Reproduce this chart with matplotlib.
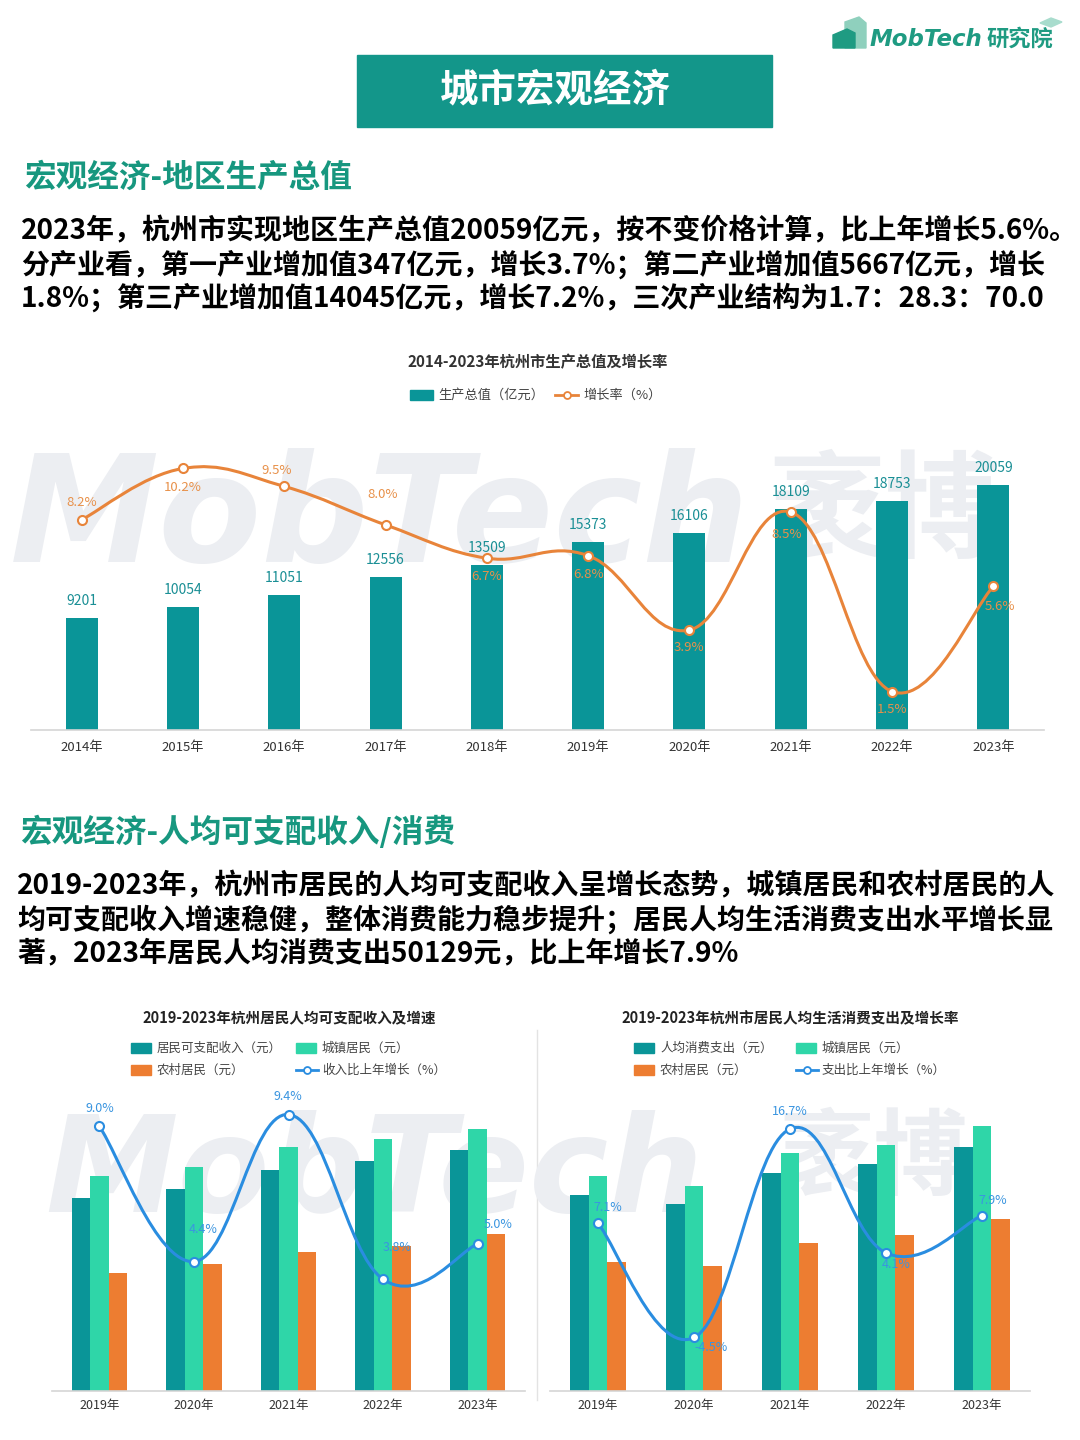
import matplotlib
matplotlib.use("Agg")
import matplotlib.pyplot as plt
from matplotlib.path import Path
from matplotlib.patches import PathPatch, Rectangle, Polygon
import numpy as np

plt.rcParams['font.family'] = ['Noto Sans CJK SC', 'DejaVu Sans']

# ---------------- data ----------------
gdp_years = ['2014年', '2015年', '2016年', '2017年', '2018年', '2019年', '2020年', '2021年', '2022年', '2023年']
gdp_values = [9201, 10054, 11051, 12556, 13509, 15373, 16106, 18109, 18753, 20059]
gdp_growth = [8.2, 10.2, 9.5, 8.0, 6.7, 6.8, 3.9, 8.5, 1.5, 5.6]

inc_years = ['2019年', '2020年', '2021年', '2022年', '2023年']
inc_total = [59300, 62000, 67800, 70600, 74000]
inc_urban = [66000, 68800, 74900, 77400, 80400]
inc_rural = [36200, 39000, 42700, 44500, 48200]
inc_growth = [9.0, 4.4, 9.4, 3.8, 5.0]

con_years = ['2019年', '2020年', '2021年', '2022年', '2023年']
con_total = [40300, 38400, 44800, 46600, 50100]
con_urban = [44200, 42100, 48900, 50500, 54400]
con_rural = [26500, 25700, 30400, 32000, 35300]
con_growth = [7.1, -4.5, 16.7, 4.1, 7.9]

# ---------------- styles ----------------
W, H = 1080, 1440
TEAL_BAR = '#0a9598'
MINT = '#2fd6a8'
ORANGE = '#ed7d31'
LINE_OR = '#e8843a'
BLUE = '#2a8de0'
HEAD = '#13968a'
SEC = '#17977f'
WM = '#eceef2'

fig = plt.figure(figsize=(W / 100, H / 100), dpi=100)
fig.patch.set_facecolor('white')

bg = fig.add_axes([0, 0, 1, 1], zorder=-10)
bg.set_xlim(0, W)
bg.set_ylim(H, 0)
bg.axis('off')


def px_axes(x0, y0, x1, y1):
    ax = fig.add_axes([x0 / W, 1 - y1 / H, (x1 - x0) / W, (y1 - y0) / H])
    ax.patch.set_visible(False)
    return ax


def smooth_line(ax, xs, ys, color, k=0.2, lw=2.2):
    P = np.column_stack([xs, ys]).astype(float)
    n = len(P)
    verts = [tuple(P[0])]
    codes = [Path.MOVETO]
    for i in range(n - 1):
        a = P[max(i - 1, 0)]
        d = P[min(i + 2, n - 1)]
        c1 = P[i] + k * (P[i + 1] - a)
        c2 = P[i + 1] - k * (d - P[i])
        verts += [tuple(c1), tuple(c2), tuple(P[i + 1])]
        codes += [Path.CURVE4] * 3
    ax.add_patch(PathPatch(Path(verts, codes), fill=False, edgecolor=color, lw=lw, zorder=4))
    ax.plot(xs, ys, 'o', ms=6.5, mfc='white', mec=color, mew=1.5, zorder=5, ls='none')


def style_axes(ax):
    for s in ['top', 'right', 'left']:
        ax.spines[s].set_visible(False)
    ax.spines['bottom'].set_color('#d5d5d5')
    ax.spines['bottom'].set_linewidth(1.2)
    ax.set_yticks([])
    ax.tick_params(axis='x', length=0, pad=8, labelsize=9.5, labelcolor='#333333')


# ---------------- decorations ----------------
# watermarks
bg.text(10, 520, 'MobTech', fontsize=108, fontweight='bold', style='oblique', color=WM,
        family='DejaVu Sans', va='center', ha='left')
bg.text(768, 515, '袤博', fontsize=84, fontweight='bold', color=WM, va='center', ha='left')
bg.text(45, 1175, 'MobTech', fontsize=96, fontweight='bold', style='oblique', color=WM,
        family='DejaVu Sans', va='center', ha='left')
bg.text(780, 1160, '袤博', fontsize=68, fontweight='bold', color=WM, va='center', ha='left')

# logo
bg.add_patch(Polygon([(845, 48), (845, 22), (859, 17), (866, 23), (866, 48)], color='#8fd0bd'))
bg.add_patch(Polygon([(833, 48), (833, 35), (847, 29), (855, 33), (855, 48)], color='#1f9b82'))
bg.add_patch(Polygon([(1040, 23), (1051, 18), (1062, 22), (1051, 27)], color='#a8dccd'))
bg.text(870, 39, 'MobTech', fontsize=16.5, fontweight='bold', style='oblique', color='#1f9b82',
        family='DejaVu Sans', va='center', ha='left')
bg.text(1053, 39, '研究院', fontsize=16, fontweight='bold', color='#1f9b82', va='center', ha='right')

# header
bg.add_patch(Rectangle((357, 55), 415, 72, color=HEAD))
bg.text(555, 90, '城市宏观经济', fontsize=27.7, fontweight='bold', color='white', ha='center', va='center')

# section 1
bg.text(24, 178, '宏观经济-地区生产总值', fontsize=22.8, fontweight='bold', color=SEC, ha='left', va='center')
body1 = ['2023年，杭州市实现地区生产总值20059亿元，按不变价格计算，比上年增长5.6%。',
         '分产业看，第一产业增加值347亿元，增长3.7%；第二产业增加值5667亿元，增长',
         '1.8%；第三产业增加值14045亿元，增长7.2%，三次产业结构为1.7：28.3：70.0']
for i, t in enumerate(body1):
    bg.text(21, 231 + i * 33.5, t, fontsize=20.15, fontweight='bold', color='black', ha='left', va='center')

# section 2
bg.text(20, 832, '宏观经济-人均可支配收入/消费', fontsize=22.8, fontweight='bold', color=SEC, ha='left', va='center')
body2 = ['2019-2023年，杭州市居民的人均可支配收入呈增长态势，城镇居民和农村居民的人',
         '均可支配收入增速稳健，整体消费能力稳步提升；居民人均生活消费支出水平增长显',
         '著，2023年居民人均消费支出50129元，比上年增长7.9%']
for i, t in enumerate(body2):
    bg.text(17, 886 + i * 33.5, t, fontsize=20.15, fontweight='bold', color='black', ha='left', va='center')

# ---------------- chart 1 ----------------
bg.text(538, 362, '2014-2023年杭州市生产总值及增长率', fontsize=11, fontweight='bold', color='#333333',
        ha='center', va='center')
bg.add_patch(Rectangle((410, 390), 23, 10, color=TEAL_BAR))
bg.text(438, 395, '生产总值（亿元）', fontsize=9.5, color='#444444', ha='left', va='center')
bg.plot([555, 578], [395, 395], color=LINE_OR, lw=2)
bg.plot([566.5], [395], 'o', ms=5, mfc='white', mec=LINE_OR, mew=1.3)
bg.text(583, 395, '增长率（%）', fontsize=9.5, color='#444444', ha='left', va='center')

ax = px_axes(31, 430, 1044, 730)
x = np.arange(len(gdp_years))
ax.bar(x, gdp_values, width=0.316, color=TEAL_BAR, zorder=2)
ax.set_xlim(-0.5, len(gdp_years) - 0.5)
ax.set_ylim(0, 24540)
ax.set_xticks(x)
ax.set_xticklabels(gdp_years)
style_axes(ax)
for xi, v in zip(x, gdp_values):
    ax.annotate(f'{v}', (xi, v), xytext=(0, 7), textcoords='offset points', ha='center', va='bottom',
                fontsize=10, color='#1a8f95')

ax2 = ax.twinx()
ax2.patch.set_visible(False)
ax2.set_ylim(0, 11.7)
ax2.axis('off')
smooth_line(ax2, x, gdp_growth, LINE_OR)
gdp_lbl_off = [(0, -17), (0, 19), (-8, -16), (-3, -30), (0, 18), (0, 19), (0, 18), (-4, 22), (0, 18), (7, 20)]
for xi, v, (dx, dy) in zip(x, gdp_growth, gdp_lbl_off):
    ax2.annotate(f'{v:.1f}%', (xi, v), xytext=(dx * 0.72, -dy * 0.72), textcoords='offset points',
                 ha='center', va='center', fontsize=9.5, color='#e8914a', zorder=6)

# ---------------- chart 2 & 3 ----------------
bg.plot([537, 537], [1030, 1400], color='#e3e3e3', lw=1)


def group_chart(x0, x1, title, tx, names, vals, growth, ylim_b, ylim_l, offs, leg_x):
    bg.text(tx, 1018, title, fontsize=10.5, fontweight='bold', color='#222222', ha='center', va='center')
    colors = [TEAL_BAR, MINT, ORANGE]
    pos = [(leg_x[0], 1048), (leg_x[1], 1048), (leg_x[0], 1070)]
    for (lx, ly), c, nm in zip(pos, colors, names[:3]):
        bg.add_patch(Rectangle((lx, ly - 5), 20, 10, color=c))
        bg.text(lx + 26, ly, nm, fontsize=9, color='#444444', ha='left', va='center')
    lx, ly = leg_x[1], 1070
    bg.plot([lx, lx + 22], [ly, ly], color=BLUE, lw=2)
    bg.plot([lx + 11], [ly], 'o', ms=5, mfc='white', mec=BLUE, mew=1.3)
    bg.text(lx + 26, ly, names[3], fontsize=9, color='#444444', ha='left', va='center')

    ax = px_axes(x0, 1066, x1, 1391)
    xx = np.arange(len(inc_years))
    bw = 0.195
    for j, (v, c) in enumerate(zip(vals, colors)):
        ax.bar(xx + (j - 1) * bw, v, width=bw, color=c, zorder=2)
    ax.set_xlim(-0.5, len(xx) - 0.5)
    ax.set_ylim(*ylim_b)
    ax.set_xticks(xx)
    ax.set_xticklabels(inc_years)
    style_axes(ax)
    ax.tick_params(axis='x', labelsize=9, pad=6)
    a2 = ax.twinx()
    a2.patch.set_visible(False)
    a2.set_ylim(*ylim_l)
    a2.axis('off')
    smooth_line(a2, xx, growth, BLUE, lw=2.2)
    for xi, v, (dx, dy) in zip(xx, growth, offs):
        a2.annotate(f'{v:.1f}%', (xi, v), xytext=(dx * 0.72, -dy * 0.72), textcoords='offset points',
                    ha='center', va='center', fontsize=9, color='#3a95e0', zorder=6)


group_chart(52, 525, '2019-2023年杭州居民人均可支配收入及增速', 289,
            ['居民可支配收入（元）', '城镇居民（元）', '农村居民（元）', '收入比上年增长（%）'],
            [inc_total, inc_urban, inc_rural], inc_growth, (0, 99800), (0, 11.05),
            [(1, -18), (9, -32), (-1, -18), (14, -32), (20, -19)], (131, 296))

group_chart(550, 1030, '2019-2023年杭州市居民人均生活消费支出及增长率', 790,
            ['人均消费支出（元）', '城镇居民（元）', '农村居民（元）', '支出比上年增长（%）'],
            [con_total, con_urban, con_rural], con_growth, (0, 66750), (-9.94, 23.1),
            [(10, -16), (17, 10), (0, -17), (10, 12), (11, -15)], (634, 796))

fig.savefig('out.png', dpi=100)
